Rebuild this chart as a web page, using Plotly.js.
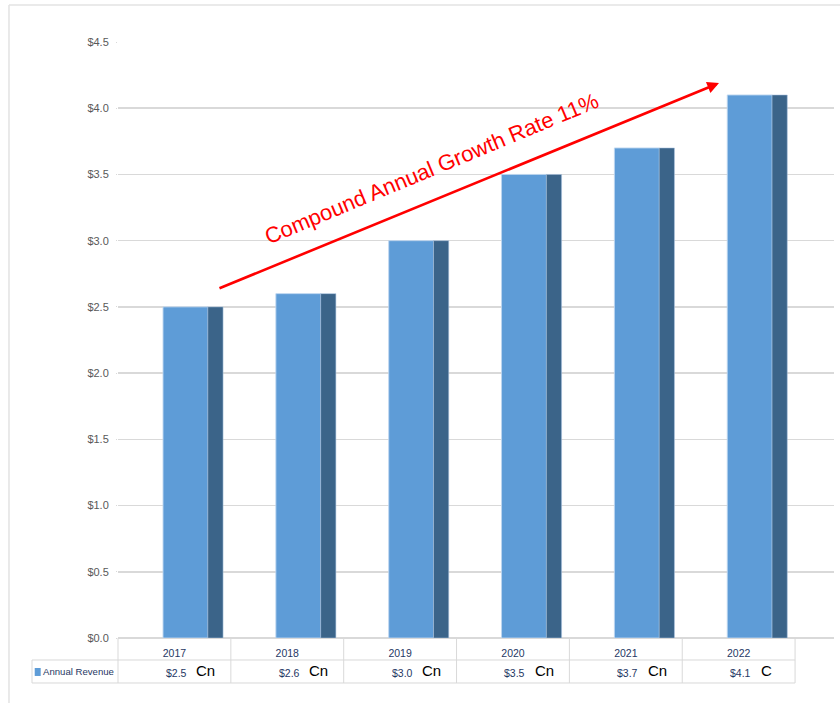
<!DOCTYPE html>
<html>
<head>
<meta charset="utf-8">
<script src="https://cdn.plot.ly/plotly-3.0.1.min.js"></script>
<style>
  html, body { margin: 0; padding: 0; background: #fff; }
  #chart { width: 840px; height: 703px; }
</style>
</head>
<body>
<div id="chart"></div>
<script>
// Annual revenue by year
const years = ['2017', '2018', '2019', '2020', '2021', '2022'];
const revenue = [2.5, 2.6, 3.0, 3.5, 3.7, 4.1];
const unitLabels = ['Cn', 'Cn', 'Cn', 'Cn', 'Cn', 'C'];
const seriesName = 'Annual Revenue';
const growthLabel = 'Compound Annual Growth Rate 11%';
const yTicks = [0, 0.5, 1, 1.5, 2, 2.5, 3, 3.5, 4, 4.5];

const small = 'Liberation Sans Narrow, Liberation Sans, Arial, sans-serif';
const navy = '#1f3864';
const gridGray = '#d9d9d9';

// category axis extends a little past the last column so the gridlines run on
const xMin = -0.5, xMax = 5.845;
const toPaperX = c => (c - xMin) / (xMax - xMin);

// front face and darker side face of each column
const front = {
  type: 'bar', x: years, y: revenue, name: seriesName,
  offset: -0.101, width: 0.399,
  marker: { color: '#5e9cd7', line: { color: 'rgba(190,214,240,0.9)', width: 1 } },
  hoverinfo: 'x+y'
};
const side = {
  type: 'bar', x: years, y: revenue, name: seriesName,
  offset: 0.296, width: 0.135,
  marker: { color: '#3b6489', line: { color: 'rgba(170,195,225,0.7)', width: 0.8 } },
  hoverinfo: 'skip', showlegend: false
};

// data table beneath the plot
const rowTop = 0, rowMid = -0.0369, rowBot = -0.0755;
const tableLeft = toPaperX(-1.262);
const lineStyle = { color: gridGray, width: 1 };
const shapes = [];
// outer frame
shapes.push({ type: 'line', xref: 'paper', yref: 'paper', x0: toPaperX(-1.466), x1: 1.02, y0: 1.062, y1: 1.062, line: { color: '#e3e3e3', width: 1.5 } });
shapes.push({ type: 'line', xref: 'paper', yref: 'paper', x0: toPaperX(-1.466), x1: toPaperX(-1.466), y0: 1.062, y1: -0.12, line: { color: '#e3e3e3', width: 1.5 } });
// column dividers
for (let i = 0; i <= years.length; i++) {
  shapes.push({ type: 'line', xref: 'paper', yref: 'paper', x0: toPaperX(i - 0.5), x1: toPaperX(i - 0.5), y0: rowTop, y1: rowBot, line: lineStyle });
}
shapes.push({ type: 'line', xref: 'paper', yref: 'paper', x0: tableLeft, x1: tableLeft, y0: rowMid, y1: rowBot, line: lineStyle });
shapes.push({ type: 'line', xref: 'paper', yref: 'paper', x0: tableLeft, x1: toPaperX(5.5), y0: rowMid, y1: rowMid, line: lineStyle });
shapes.push({ type: 'line', xref: 'paper', yref: 'paper', x0: tableLeft, x1: toPaperX(5.5), y0: rowBot, y1: rowBot, line: lineStyle });
// legend key
shapes.push({ type: 'rect', xref: 'paper', yref: 'paper', x0: toPaperX(-1.238), x1: toPaperX(-1.185), y0: -0.0503, y1: -0.0637, fillcolor: '#5e9cd7', line: { width: 0 } });

const annotations = [];
annotations.push({ xref: 'paper', yref: 'paper', x: toPaperX(-1.178), y: -0.0570, xanchor: 'left', yanchor: 'middle', text: seriesName, showarrow: false, font: { family: small, size: 9.6, color: navy } });
years.forEach((yr, i) => {
  annotations.push({ xref: 'x', yref: 'paper', x: i, y: -0.0580, xshift: 2, xanchor: 'center', yanchor: 'middle', text: '$' + revenue[i].toFixed(1), showarrow: false, font: { family: small, size: 10.5, color: navy } });
  annotations.push({ xref: 'x', yref: 'paper', x: i, y: -0.0540, xshift: 20, xanchor: 'left', yanchor: 'middle', text: unitLabels[i], showarrow: false, font: { family: 'Liberation Sans, Arial, sans-serif', size: 15, color: '#000' } });
});
// growth arrow and its label
annotations.push({ xref: 'x', yref: 'y', axref: 'x', ayref: 'y', x: 4.826, y: 4.19, ax: 0.386, ay: 2.636, text: '', showarrow: true, arrowhead: 2, arrowsize: 0.9, arrowwidth: 2.6, arrowcolor: '#ff0000', standoff: 0 });
annotations.push({ xref: 'x', yref: 'y', x: 2.28, y: 3.545, text: growthLabel, textangle: -22.6, showarrow: false, font: { family: 'Liberation Sans, Arial, sans-serif', size: 22, color: '#ff0000' } });

const layout = {
  width: 840, height: 703,
  margin: { l: 118, r: 6, t: 42, b: 65 },
  paper_bgcolor: '#fff', plot_bgcolor: '#fff',
  barmode: 'overlay', bargap: 0,
  showlegend: false,
  xaxis: {
    type: 'category', range: [xMin, xMax], fixedrange: true,
    showgrid: false, zeroline: false, showline: false, ticks: '',
    tickfont: { family: small, size: 10.5, color: navy }, ticklabelstandoff: 7
  },
  yaxis: {
    range: [0, 4.5], tickvals: yTicks, tickformat: '$.1f',
    showgrid: true, gridcolor: gridGray, gridwidth: 1.5,
    zeroline: true, zerolinecolor: gridGray, zerolinewidth: 1.5,
    ticks: 'outside', ticklen: 1, tickcolor: gridGray, ticklabelstandoff: 5,
    tickfont: { family: small, size: 11, color: '#595959' }, fixedrange: true
  },
  shapes: shapes,
  annotations: annotations
};

Plotly.newPlot('chart', [front, side], layout, { displayModeBar: false, staticPlot: true });
</script>
</body>
</html>
